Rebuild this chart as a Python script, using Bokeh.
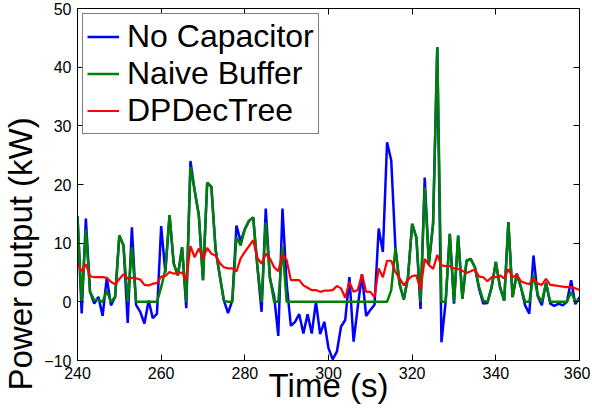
from bokeh.plotting import figure
from bokeh.models import LinearAxis, Range1d, FixedTicker, Legend, LegendItem, Title
from bokeh.embed import file_html
from bokeh.resources import INLINE

time_s = list(range(240, 361))

no_capacitor = [
    14.6, -2.0, 14.2, 1.7, -0.3, 0.85, -2.4, 4.1, -0.6, 0.85,
    11.3, 9.6, -3.6, 12.7, -0.5, -1.7, -3.7, 0.2, -2.8, -2.0,
    12.9, 5.0, 14.8, 6.5, 4.5, 9.3, -1.1, 24.0, 19.0, 14.8,
    3.7, 20.3, 19.6, 9.0, 4.5, 0.2, -1.9, 0.2, 13.0, 10.3,
    12.4, 13.8, 14.4, 6.0, -1.7, 15.9, 4.0, 1.0, -5.8, 15.9,
    3.0, -4.1, -3.4, -2.1, -5.4, -2.1, -5.4, 0.0, -5.5, -3.4,
    -7.9, -9.8, -8.5, -4.2, -3.1, 4.2, -6.8, -0.8, 4.7, -2.4,
    -1.4, -0.5, 12.5, 8.5, 27.2, 24.1, 9.2, 3.0, 0.4, 4.2,
    13.3, 11.0, -1.2, 21.2, 6.5, 13.3, 43.4, -6.9, 0.0, 11.6,
    -0.3, 11.3, 0.5, 7.0, 7.3, 5.9, 2.2, -0.3, -0.2, 2.5,
    6.8, 2.5, 0.2, 13.6, 0.8, 4.8, 2.5, -0.6, -2.0, 7.9,
    1.0, -0.6, 3.3, -0.3, -0.7, -0.3, -0.6, 0.0, 3.7, -0.4,
    0.8,
]

naive_buffer = [
    14.6, 0.0, 12.3, 1.7, 0.3, 0.3, 0.0, 1.9, 0.0, 0.85,
    11.3, 9.6, 0.0, 9.3, 0.0, 0.0, 0.0, 0.0, 0.0, 0.0,
    2.5, 5.5, 14.8, 6.5, 4.5, 9.3, 0.0, 23.0, 19.0, 14.8,
    3.7, 20.3, 19.6, 9.0, 4.5, 0.2, 0.0, 0.0, 11.0, 9.6,
    12.4, 13.8, 14.4, 6.0, 0.0, 13.5, 4.2, 0.0, 0.0, 9.4,
    0.0, 0.0, 0.0, 0.0, 0.0, 0.0, 0.0, 0.0, 0.0, 0.0,
    0.0, 0.0, 0.0, 0.0, 0.0, 0.0, 0.0, 0.0, 0.0, 0.0,
    0.0, 0.0, 0.0, 0.0, 0.0, 2.0, 9.2, 3.0, 0.4, 4.2,
    13.3, 11.0, 0.0, 19.5, 6.5, 13.3, 43.4, 0.0, 0.0, 11.6,
    0.0, 11.3, 0.5, 7.0, 7.3, 5.9, 2.5, 0.2, 0.0, 2.5,
    6.8, 2.5, 0.2, 13.6, 0.8, 4.8, 2.5, 0.0, 0.0, 4.6,
    1.2, 0.0, 3.2, 0.0, 0.0, 0.0, 0.0, 0.0, 1.7, 0.0,
    0.4,
]

dpdectree = [
    6.5, 5.2, 6.4, 4.4, 4.2, 4.2, 4.2, 4.1, 3.4, 3.0,
    3.9, 4.7, 4.0, 4.1, 4.0, 3.8, 2.9, 2.8, 3.1, 3.2,
    4.3, 4.4, 5.1, 4.8, 4.9, 5.0, 3.7, 9.5, 7.6, 9.1,
    7.4, 9.2, 8.2, 7.9, 6.6, 5.9, 5.7, 5.7, 5.2, 7.4,
    8.5, 9.5, 10.5, 7.5, 6.5, 8.2, 7.4, 5.9, 5.2, 8.1,
    7.1, 3.7, 3.7, 3.7, 2.8, 2.4, 2.0, 2.0, 1.7, 1.9,
    1.9, 2.0, 2.7, 2.3, 0.7, 3.4, 1.7, 2.0, 4.7, 1.7,
    1.7, 0.8, 5.7, 4.2, 7.0, 7.0, 5.1, 4.0, 2.8, 3.8,
    4.4, 4.5, 2.1, 7.3, 6.3, 5.6, 8.0, 6.2, 6.1, 6.1,
    5.7, 5.6, 5.3, 4.9, 5.2, 5.5, 4.3, 4.2, 3.5, 4.2,
    4.2, 4.5, 4.0, 5.6, 4.2, 4.6, 3.5, 3.2, 3.0, 4.0,
    3.1, 2.9, 3.9, 2.9, 2.8, 2.7, 2.6, 2.5, 2.5, 2.3,
    2.0,
]

x_ticks = [240, 260, 280, 300, 320, 340, 360]
y_ticks = [-10, 0, 10, 20, 30, 40, 50]

FONT = "Liberation Sans"

p = figure(width=590, height=410, output_backend="svg", toolbar_location=None,
           x_range=Range1d(240, 360), y_range=Range1d(-10, 50),
           min_border_left=77, min_border_right=11, min_border_top=8, min_border_bottom=50)
p.xgrid.visible = False
p.ygrid.visible = False
p.outline_line_color = "black"
p.outline_line_width = 1
p.background_fill_color = "white"
p.border_fill_color = "white"

def style_axis(ax, ticks, show_labels):
    ax.ticker = FixedTicker(ticks=ticks)
    ax.major_tick_in = 6
    ax.major_tick_out = 0
    ax.minor_tick_line_color = None
    ax.axis_line_color = "black"
    ax.major_tick_line_color = "black"
    ax.major_label_text_font = FONT
    if show_labels:
        ax.major_label_text_color = "black"
        ax.major_label_text_font_size = "16px"
        ax.major_label_standoff = 6
    else:
        ax.major_label_text_color = None
        ax.major_label_text_font_size = "1px"
        ax.major_label_standoff = 0

style_axis(p.xaxis[0], x_ticks, True)
style_axis(p.yaxis[0], y_ticks, True)

top_axis = LinearAxis()
style_axis(top_axis, x_ticks, False)
p.add_layout(top_axis, "above")
right_axis = LinearAxis()
style_axis(right_axis, y_ticks, False)
p.add_layout(right_axis, "right")

r_blue = p.line(time_s, no_capacitor, line_color="#0000FF", line_width=2.5)
r_green = p.line(time_s, naive_buffer, line_color="#008000", line_width=2.5)
r_red = p.line(time_s, dpdectree, line_color="#FF0000", line_width=2.2)

legend = Legend(items=[
    LegendItem(label="No Capacitor", renderers=[r_blue]),
    LegendItem(label="Naive Buffer", renderers=[r_green]),
    LegendItem(label="DPDecTree", renderers=[r_red]),
], location="top_left")
legend.label_text_font = FONT
legend.label_text_font_size = "32px"
legend.label_text_color = "black"
legend.label_height = 33
legend.glyph_height = 33
legend.glyph_width = 32
legend.label_standoff = 8
legend.padding = 4
legend.spacing = 0
legend.margin = 5
legend.border_line_color = "black"
legend.border_line_width = 1.2
legend.background_fill_color = "white"
legend.background_fill_alpha = 1
p.add_layout(legend, "center")

xlabel = Title(text="Time (s)", align="center", vertical_align="top", standoff=-30,
               text_font=FONT, text_font_size="33px", text_font_style="normal",
               text_color="black")
p.add_layout(xlabel, "below")

ylabel = Title(text="Power output (kW)", align="left", offset=-30, vertical_align="top",
               standoff=1, text_font=FONT, text_font_size="33px",
               text_font_style="normal", text_color="black")
p.add_layout(ylabel, "left")

open("out.html", "w").write(file_html(p, INLINE))
